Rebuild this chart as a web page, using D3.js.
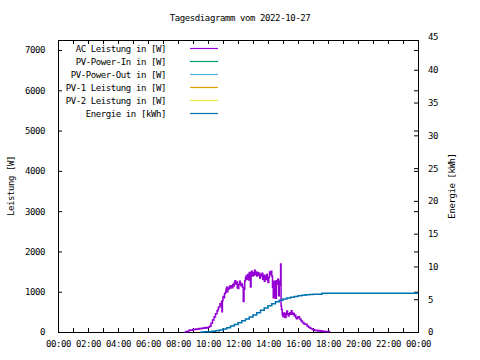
<!DOCTYPE html>
<html><head><meta charset="utf-8">
<script src="https://cdn.jsdelivr.net/npm/d3@7"></script>
<style>
body{margin:0;background:#fff;}
svg text{font-family:"DejaVu Sans Mono",monospace;font-size:9px;letter-spacing:-0.4px;fill:#000;}
</style></head><body>
<svg id="c" width="480" height="360"></svg>
<script>
const title = "Tagesdiagramm vom 2022-10-27";
const yLabel = "Leistung [W]";
const y2Label = "Energie [kWh]";
const legendLabels = ["AC Leistung in [W]","PV-Power-In in [W]","PV-Power-Out in [W]","PV-1 Leistung in [W]","PV-2 Leistung in [W]","Energie in [kWh]"];
const legendColors = ["#9400d3","#009e73","#56b4e9","#e69f00","#f0e442","#0072b2"];
const xTickLabels = ["00:00","02:00","04:00","06:00","08:00","10:00","12:00","14:00","16:00","18:00","20:00","22:00","00:00"];
const yTicks = [0,1000,2000,3000,4000,5000,6000,7000];
const y2Ticks = [0,5,10,15,20,25,30,35,40,45];

// AC power (hours, W)
const acTime = [8.45,8.5,8.6,8.7,8.8,8.9,9.0,9.1,9.2,9.3,9.4,9.5,9.6,9.7,9.8,9.9,10.0,10.1,10.2,10.3,10.4,10.5,10.6,10.65,10.7,10.8,10.85,10.9,10.93,10.96,11.0,11.05,11.1,11.15,11.2,11.24,11.28,11.32,11.36,11.4,11.45,11.5,11.55,11.6,11.65,11.7,11.75,11.8,11.85,11.9,11.95,12.0,12.05,12.1,12.15,12.2,12.25,12.3,12.35,12.4,12.45,12.5,12.55,12.6,12.65,12.7,12.75,12.8,12.83,12.87,12.9,12.95,13.0,13.05,13.1,13.15,13.2,13.25,13.3,13.35,13.4,13.45,13.5,13.55,13.6,13.65,13.7,13.75,13.8,13.85,13.9,13.95,14.0,14.05,14.1,14.15,14.2,14.25,14.3,14.35,14.4,14.45,14.5,14.55,14.6,14.65,14.7,14.75,14.8,14.84,14.87,14.9,14.95,15.0,15.05,15.1,15.15,15.2,15.25,15.3,15.35,15.4,15.45,15.5,15.55,15.6,15.65,15.7,15.75,15.8,15.85,15.9,15.95,16.0,16.1,16.2,16.3,16.4,16.5,16.6,16.7,16.8,16.9,17.0,17.1,17.2,17.3,17.4,17.5,17.6,17.7,17.8,17.9,18.0,18.1];
const acPower = [0,15,10,40,50,45,70,60,75,70,85,80,100,95,110,100,120,140,220,300,370,450,520,560,620,700,660,760,500,780,880,850,950,980,1060,1110,1000,1080,1060,1120,1140,1090,1150,1100,1180,1140,1230,1270,1190,1240,1100,1080,1180,1260,1210,1150,1190,1110,760,1060,1270,1350,1400,1310,1430,1290,1480,1390,1120,1430,1510,1390,1470,1410,1530,1430,1490,1390,1480,1410,1460,1340,1430,1390,1460,1310,1410,1260,1390,1310,1430,1290,1230,1360,1490,1430,1510,1390,1110,850,1260,1160,840,1270,1190,1310,900,1260,1160,1690,650,560,420,380,470,420,360,460,520,440,400,450,480,440,530,480,440,460,400,420,360,330,360,380,320,270,230,200,190,150,120,90,75,55,40,45,25,35,20,25,10,15,8,10,0];

// Energy (hours, kWh)
const enTime = [9.5,9.75,10.0,10.25,10.5,10.75,11.0,11.25,11.5,11.75,12.0,12.25,12.5,12.75,13.0,13.25,13.5,13.75,14.0,14.25,14.5,14.75,15.0,15.25,15.5,15.75,16.0,16.25,16.5,16.75,17.0,17.6,24.0];
const enKWh = [0,0.02,0.05,0.1,0.18,0.3,0.45,0.65,0.9,1.15,1.4,1.7,2.0,2.3,2.6,2.95,3.3,3.65,4.0,4.3,4.6,4.85,5.05,5.18,5.3,5.42,5.52,5.6,5.68,5.73,5.77,5.92,5.92];

const svg = d3.select("#c");
const L=58, R=418, T=40, B=332;
const x = d3.scaleLinear().domain([0,24]).range([L,R]);
const y = d3.scaleLinear().domain([0,7000]).range([B,50]);
const y2 = d3.scaleLinear().domain([0,45]).range([B,37]);

svg.append("rect").attr("width",480).attr("height",360).attr("fill","#fff");

// axes
const gx = svg.append("g").attr("transform",`translate(0,${B})`)
  .call(d3.axisBottom(x).tickValues(d3.range(0,25)).tickSize(-4).tickPadding(9)
    .tickFormat(d=> d%2===0 ? xTickLabels[d/2] : ""));
const gxt = svg.append("g").attr("transform",`translate(0,${T})`)
  .call(d3.axisTop(x).tickValues(d3.range(0,25)).tickSize(-4).tickFormat(""));
const gy = svg.append("g").attr("transform",`translate(${L},0)`)
  .call(d3.axisLeft(y).tickValues(yTicks).tickSize(-4).tickPadding(13).tickFormat(d3.format("d")));
const gym = svg.append("g").attr("transform",`translate(${R},0)`)
  .call(d3.axisRight(y).tickValues(yTicks).tickSize(-4).tickFormat(""));
const gy2 = svg.append("g").attr("transform",`translate(${R},0)`)
  .call(d3.axisRight(y2).tickValues(y2Ticks).tickSize(-4).tickPadding(10).tickFormat(d3.format("d")));
[gx,gxt,gy,gym,gy2].forEach(g=>{
  g.attr("font-family",null).attr("font-size",null);
  g.select(".domain").remove();
  g.selectAll("line").attr("stroke","#000");
});
gy2.selectAll(".tick").filter(d=>d===45).select("line").remove();

svg.append("rect").attr("x",L+0.5).attr("y",T+0.5).attr("width",R-L).attr("height",B-T)
  .attr("fill","none").attr("stroke","#000").attr("stroke-width",1);

// lines
const acLine = d3.line().x((d,i)=>x(acTime[i])).y(d=>y(d)).curve(d3.curveStepAfter);
svg.append("path").datum(acPower).attr("d",acLine).attr("fill","none")
  .attr("stroke",legendColors[0]).attr("stroke-width",1.5);
const enLine = d3.line().x((d,i)=>x(enTime[i])).y(d=>y2(d)).curve(d3.curveStepAfter);
svg.append("path").datum(enKWh).attr("d",enLine).attr("fill","none")
  .attr("stroke",legendColors[5]).attr("stroke-width",1.5);

// title & axis labels
svg.append("text").attr("x",240).attr("y",21).attr("text-anchor","middle").text(title);
svg.append("text").attr("transform","translate(14,186) rotate(-90)").attr("text-anchor","middle").text(yLabel);
svg.append("text").attr("transform","translate(455,186) rotate(-90)").attr("text-anchor","middle").text(y2Label);

// legend
const lg = svg.append("g");
legendLabels.forEach((lab,i)=>{
  const yy = 48.5 + i*13;
  lg.append("text").attr("x",166).attr("y",yy+3).attr("text-anchor","end").text(lab);
  lg.append("line").attr("x1",190).attr("x2",218).attr("y1",yy).attr("y2",yy)
    .attr("stroke",legendColors[i]).attr("stroke-width",1.2);
});
</script></body></html>
